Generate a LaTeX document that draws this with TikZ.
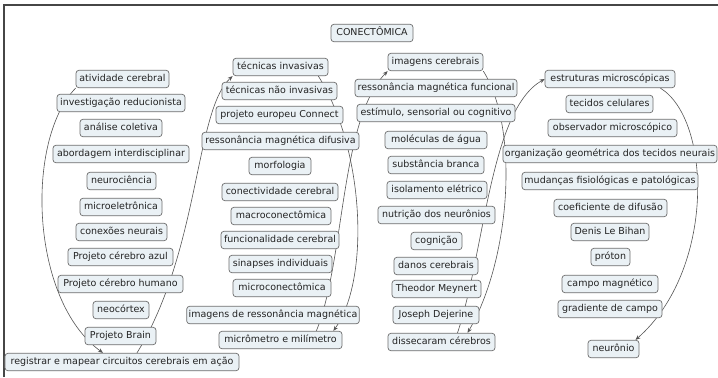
\documentclass[tikz,border=0pt]{standalone}
\usepackage{fontspec}
\setmainfont{DejaVu Sans}
\usetikzlibrary{arrows.meta,backgrounds}
\definecolor{boxfill}{RGB}{234,241,245}
\definecolor{boxline}{RGB}{110,110,110}
\definecolor{ink}{RGB}{35,35,35}
\definecolor{wire}{RGB}{85,85,85}
\definecolor{framecol}{RGB}{70,70,70}

\begin{document}
\begin{tikzpicture}[x=1bp,y=-1bp,
  concept/.style={draw=boxline, fill=boxfill, rounded corners=3bp, line width=0.7bp,
    text=ink, font=\fontsize{9.5bp}{11bp}\selectfont, inner xsep=2bp, inner ysep=0bp,
    minimum height=17.5bp, text height=7bp, text depth=2bp},
  link/.style={draw=wire, line width=0.6bp, -{Stealth[length=5bp,width=4bp]}}]

\useasboundingbox (0,0) rectangle (718,377);

% root
\node[concept, minimum width=82bp] (root) at (372,33) {CONECTÔMICA};

% first column
\node[concept, minimum width=93bp]  (a1)  at (122.5,79)  {atividade cerebral};
\node[concept, minimum width=128bp] (a2)  at (121,103)   {investigação reducionista};
\node[concept, minimum width=82bp]  (a3)  at (121,128)   {análise coletiva};
\node[concept, minimum width=136bp] (a4)  at (121,154)   {abordagem interdisciplinar};
\node[concept, minimum width=69bp]  (a5)  at (121.5,181) {neurociência};
\node[concept, minimum width=82bp]  (a6)  at (121,207)   {microeletrônica};
\node[concept, minimum width=91bp]  (a7)  at (121.5,232) {conexões neurais};
\node[concept, minimum width=105bp] (a8)  at (120.5,257) {Projeto cérebro azul};
\node[concept, minimum width=125bp] (a9)  at (120.5,284) {Projeto cérebro humano};
\node[concept, minimum width=56bp]  (a10) at (121,310)   {neocórtex};
\node[concept, minimum width=71bp]  (a11) at (120.5,336) {Projeto Brain};
\node[concept, minimum width=234bp] (a12) at (122,362)   {registrar e mapear circuitos cerebrais em ação};

% second column
\node[concept, minimum width=95bp]  (b1)  at (280.5,67)  {técnicas invasivas};
\node[concept, minimum width=115bp] (b2)  at (279.5,91)  {técnicas não invasivas};
\node[concept, minimum width=127bp] (b3)  at (279.5,115) {projeto europeu Connect};
\node[concept, minimum width=157bp] (b4)  at (280.5,141) {ressonância magnética difusiva};
\node[concept, minimum width=62bp]  (b5)  at (280,166)   {morfologia};
\node[concept, minimum width=116bp] (b6)  at (280,192)   {conectividade cerebral};
\node[concept, minimum width=100bp] (b7)  at (281,216)   {macroconectômica};
\node[concept, minimum width=118bp] (b8)  at (280,240)   {funcionalidade cerebral};
\node[concept, minimum width=103bp] (b9)  at (280.5,264) {sinapses individuais};
\node[concept, minimum width=98bp]  (b10) at (282,288)   {microconectômica};
\node[concept, minimum width=170bp] (b11) at (273,315)   {imagens de ressonância magnética};
\node[concept, minimum width=123bp] (b12) at (280.5,340) {micrômetro e milímetro};

% third column
\node[concept, minimum width=95bp]  (c1)  at (435.5,62)  {imagens cerebrais};
\node[concept, minimum width=162bp] (c2)  at (436,88)    {ressonância magnética funcional};
\node[concept, minimum width=158bp] (c3)  at (436,113)   {estímulo, sensorial ou cognitivo};
\node[concept, minimum width=102bp] (c4)  at (436,140)   {moléculas de água};
\node[concept, minimum width=96bp]  (c5)  at (436,165)   {substância branca};
\node[concept, minimum width=100bp] (c6)  at (437,190)   {isolamento elétrico};
\node[concept, minimum width=117bp] (c7)  at (436.5,215) {nutrição dos neurônios};
\node[concept, minimum width=51bp]  (c8)  at (436.5,241) {cognição};
\node[concept, minimum width=84bp]  (c9)  at (436,266)   {danos cerebrais};
\node[concept, minimum width=89bp]  (c10) at (436.5,289) {Theodor Meynert};
\node[concept, minimum width=86bp]  (c11) at (436,315)   {Joseph Dejerine};
\node[concept, minimum width=107bp] (c12) at (441.5,342) {dissecaram cérebros};

% fourth column
\node[concept, minimum width=130bp] (d1)  at (610,79)    {estruturas microscópicas};
\node[concept, minimum width=87bp]  (d2)  at (609.5,104) {tecidos celulares};
\node[concept, minimum width=129bp] (d3)  at (612.5,128) {observador microscópico};
\node[concept, minimum width=214bp] (d4)  at (610,154)   {organização geométrica dos tecidos neurais};
\node[concept, minimum width=176bp] (d5)  at (610,181)   {mudanças fisiológicas e patológicas};
\node[concept, minimum width=113bp] (d6)  at (610.5,208) {coeficiente de difusão};
\node[concept, minimum width=78bp]  (d7)  at (610,232)   {Denis Le Bihan};
\node[concept, minimum width=39bp]  (d8)  at (610.5,257) {próton};
\node[concept, minimum width=96bp]  (d9)  at (610,284)   {campo magnético};
\node[concept, minimum width=104bp] (d10) at (610,309)   {gradiente de campo};
\node[concept, minimum width=51bp]  (d11) at (613.5,349) {neurônio};

% connecting curves, kept behind the boxes
\begin{pgfonlayer}{background}
\fill[white] (0,0) rectangle (718,377);
\draw[framecol, line width=1.2bp] (4,377) -- (4,5) -- (718,5);
\draw[link] (a1.south west) .. controls (25,140) and (30,300) .. ([xshift=-19bp]a12.north);
\draw[link] ([xshift=15bp]a12.north) .. controls (200,250) and (195,110) .. (b1.south west);
\draw[link] ([xshift=-10bp]b1.south east) .. controls (365,150) and (370,280) .. ([xshift=-9bp]b12.north east);
\draw[link] ([xshift=-26bp]b12.north east) .. controls (345,260) and (340,120) .. (c1.south west);
\draw[link] (c1.south east) .. controls (520,130) and (510,260) .. ([xshift=26bp]c12.north);
\draw[link] ([xshift=16bp]c12.north) .. controls (485,250) and (490,110) .. (d1.west);
\draw[link] ([xshift=-15bp]d1.south east) .. controls (712,120) and (715,270) .. ([xshift=22bp]d11.north);
\end{pgfonlayer}
\end{tikzpicture}
\end{document}
